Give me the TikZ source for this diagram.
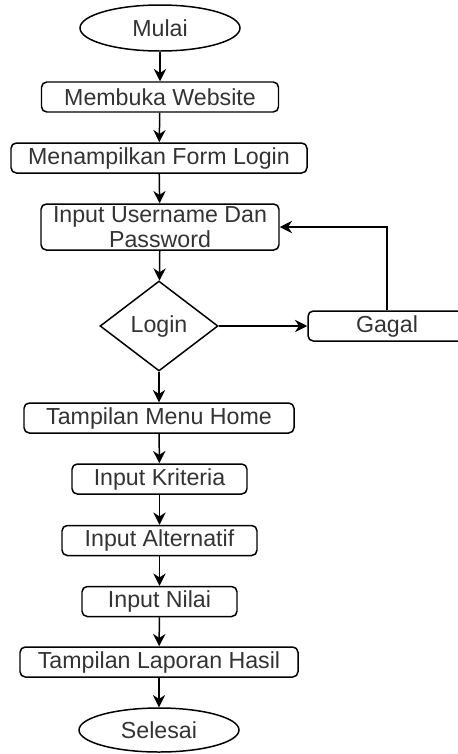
\documentclass[tikz,border=0pt]{standalone}
\usepackage{fontspec}
\setmainfont{Liberation Sans}
\usetikzlibrary{shapes.geometric,arrows.meta}
\tikzset{
  flowbox/.style={draw,rounded corners=3pt,line width=0.85pt,minimum height=30*0.02cm,inner sep=0pt,text=black!80},
  flowend/.style={draw,ellipse,line width=0.85pt,minimum width=160*0.02cm,minimum height=46*0.02cm,inner sep=0pt,text=black!80},
  flowdec/.style={draw,diamond,aspect=1.3,line width=0.85pt,minimum width=118*0.02cm,minimum height=90*0.02cm,inner sep=0pt,text=black!80},
  flowarr/.style={-{Stealth[length=7pt,width=7pt]},line width=0.85pt}
}
\begin{document}
\begin{tikzpicture}[x=0.02cm,y=-0.02cm,font=\fontsize{13.2pt}{15pt}\selectfont]
      \useasboundingbox (0,0) rectangle (457,754);
      % main column
      \node[flowend] (mulai) at (160,28) {Mulai};
      \node[flowbox,minimum width=237*0.02cm] (website) at (160,97) {Membuka Website};
      \node[flowbox,minimum width=296*0.02cm] (form) at (159,158) {Menampilkan Form Login};
      \node[flowbox,minimum width=238*0.02cm,minimum height=46*0.02cm,align=center,font=\fontsize{13.2pt}{14.5pt}\selectfont] (input) at (160,227) {Input Username Dan\\Password};
      \node[flowdec] (login) at (159,326) {Login};
      \node[flowbox,minimum width=158*0.02cm] (gagal) at (387,326) {Gagal};
      \node[flowbox,minimum width=270*0.02cm] (home) at (159,418) {Tampilan Menu Home};
      \node[flowbox,minimum width=175*0.02cm] (kriteria) at (159.5,479) {Input Kriteria};
      \node[flowbox,minimum width=195*0.02cm] (alternatif) at (159.5,540.5) {Input Alternatif};
      \node[flowbox,minimum width=155*0.02cm] (nilai) at (159.5,601.5) {Input Nilai};
      \node[flowbox,minimum width=278*0.02cm] (laporan) at (159,662) {Tampilan Laporan Hasil};
      \node[flowend,minimum height=44*0.02cm] (selesai) at (159,730) {Selesai};
      % connectors
      \draw[flowarr] (mulai) -- (website);
      \draw[flowarr] (website) -- (form);
      \draw[flowarr] (form) -- (input);
      \draw[flowarr] (input) -- (login);
      \draw[flowarr] (login) -- (gagal);
      \draw[flowarr] (gagal.north) |- (input.east);
      \draw[flowarr] (login) -- (home);
      \draw[flowarr] (home) -- (kriteria);
      \draw[flowarr] (kriteria) -- (alternatif);
      \draw[flowarr] (alternatif) -- (nilai);
      \draw[flowarr] (nilai) -- (laporan);
      \draw[flowarr] (laporan) -- (selesai);
\end{tikzpicture}
\end{document}
